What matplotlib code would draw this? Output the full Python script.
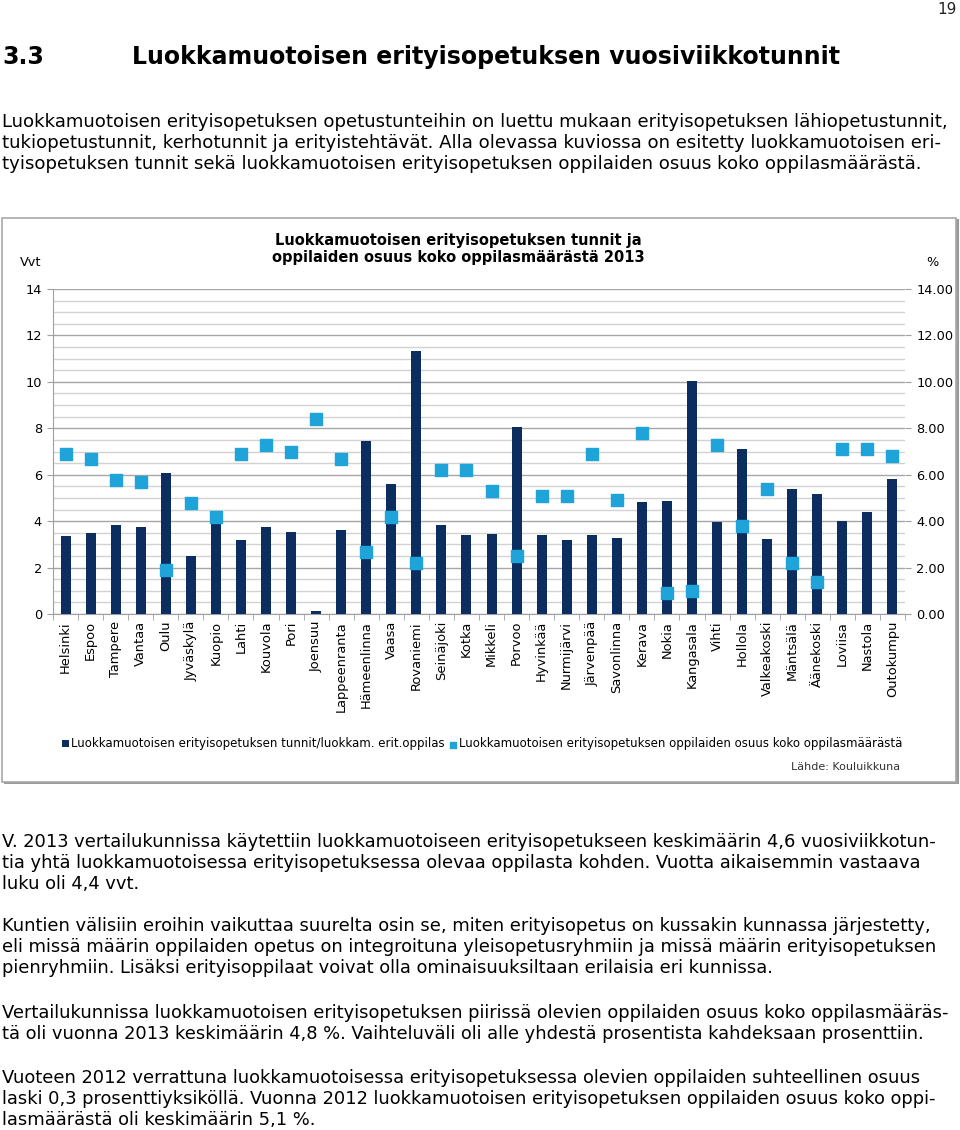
import matplotlib
matplotlib.use("Agg")
import matplotlib.pyplot as plt
from matplotlib.patches import Rectangle
import numpy as np

W, H = 960, 1130

# --- chart data ---
kunnat = ['Helsinki', 'Espoo', 'Tampere', 'Vantaa', 'Oulu', 'Jyväskylä', 'Kuopio',
          'Lahti', 'Kouvola', 'Pori', 'Joensuu', 'Lappeenranta', 'Hämeenlinna', 'Vaasa',
          'Rovaniemi', 'Seinäjoki', 'Kotka', 'Mikkeli', 'Porvoo', 'Hyvinkää', 'Nurmijärvi',
          'Järvenpää', 'Savonlinna', 'Kerava', 'Nokia', 'Kangasala', 'Vihti', 'Hollola',
          'Valkeakoski', 'Mäntsälä', 'Äänekoski', 'Loviisa', 'Nastola', 'Outokumpu']
tunnit = [3.35, 3.49, 3.82, 3.75, 6.06, 2.48, 4.0, 3.19, 3.76, 3.55, 0.14, 3.6,
          7.44, 5.61, 11.32, 3.85, 3.42, 3.45, 8.04, 3.40, 3.20, 3.40, 3.27, 4.82,
          4.88, 10.02, 3.96, 7.11, 3.22, 5.40, 5.17, 3.99, 4.38, 5.83]
osuus = [6.89, 6.69, 5.79, 5.69, 1.91, 4.80, 4.19, 6.89, 7.29, 7.00, 8.41, 6.69,
         2.69, 4.19, 2.21, 6.20, 6.20, 5.31, 2.50, 5.10, 5.10, 6.89, 4.90, 7.81,
         0.89, 1.00, 7.29, 3.80, 5.40, 2.21, 1.38, 7.09, 7.09, 6.81]
ticks_vvt = [0, 2, 4, 6, 8, 10, 12, 14]

chart_title = 'Luokkamuotoisen erityisopetuksen tunnit ja\noppilaiden osuus koko oppilasmäärästä 2013'
label_bar = 'Luokkamuotoisen erityisopetuksen tunnit/luokkam. erit.oppilas'
label_pt = 'Luokkamuotoisen erityisopetuksen oppilaiden osuus koko oppilasmäärästä'

# --- page text ---
heading_no = '3.3'
heading = 'Luokkamuotoisen erityisopetuksen vuosiviikkotunnit'
intro = ['Luokkamuotoisen erityisopetuksen opetustunteihin on luettu mukaan erityisopetuksen lähiopetustunnit,',
         'tukiopetustunnit, kerhotunnit ja erityistehtävät. Alla olevassa kuviossa on esitetty luokkamuotoisen eri-',
         'tyisopetuksen tunnit sekä luokkamuotoisen erityisopetuksen oppilaiden osuus koko oppilasmäärästä.']
paragraphs = [
    ['V. 2013 vertailukunnissa käytettiin luokkamuotoiseen erityisopetukseen keskimäärin 4,6 vuosiviikkotun-',
     'tia yhtä luokkamuotoisessa erityisopetuksessa olevaa oppilasta kohden. Vuotta aikaisemmin vastaava',
     'luku oli 4,4 vvt.'],
    ['Kuntien välisiin eroihin vaikuttaa suurelta osin se, miten erityisopetus on kussakin kunnassa järjestetty,',
     'eli missä määrin oppilaiden opetus on integroituna yleisopetusryhmiin ja missä määrin erityisopetuksen',
     'pienryhmiin. Lisäksi erityisoppilaat voivat olla ominaisuuksiltaan erilaisia eri kunnissa.'],
    ['Vertailukunnissa luokkamuotoisen erityisopetuksen piirissä olevien oppilaiden osuus koko oppilasmääräs-',
     'tä oli vuonna 2013 keskimäärin 4,8 %. Vaihteluväli oli alle yhdestä prosentista kahdeksaan prosenttiin.'],
    ['Vuoteen 2012 verrattuna luokkamuotoisessa erityisopetuksessa olevien oppilaiden suhteellinen osuus',
     'laski 0,3 prosenttiyksiköllä. Vuonna 2012 luokkamuotoisen erityisopetuksen oppilaiden osuus koko oppi-',
     'lasmäärästä oli keskimäärin 5,1 %.'],
]
para_top = [842, 926, 1013, 1078]

NAVY = '#0b2d5f'
CYAN = '#1ea4d8'
plt.rcParams['font.family'] = ['DejaVu Sans']

fig = plt.figure(figsize=(W / 100, H / 100), dpi=100)
renderer = fig.canvas.get_renderer()


def px(x, y):
    return x / W, 1 - y / H


def fit_size(text, width, weight='normal', family='DejaVu Sans'):
    # measure at 10pt and scale to the wanted pixel width
    t = fig.text(0, 0, text, fontsize=10, weight=weight, family=family)
    w = t.get_window_extent(renderer).width
    t.remove()
    return 10 * width / w


# page number + heading
fig.text(*px(957, 10), '19', ha='right', va='center', fontsize=11, color='#222222')
hsize = fit_size(heading, 706, weight='bold')
fig.text(*px(2, 57), heading_no, ha='left', va='center', fontsize=hsize, weight='bold')
fig.text(*px(132, 57), heading, ha='left', va='center', fontsize=hsize, weight='bold')

body = fit_size(intro[0], 948)
for i, line in enumerate(intro):
    fig.text(*px(2, 122 + 21 * i), line, ha='left', va='center', fontsize=body)

body2 = fit_size(paragraphs[2][0], 946)
for top, para in zip(para_top, paragraphs):
    for i, line in enumerate(para):
        fig.text(*px(2, top + 21 * i), line, ha='left', va='center', fontsize=body2)

# chart frame (behind the axes)
fig.patches.append(Rectangle(px(4, 784), 955 / W, 565 / H, transform=fig.transFigure,
                             facecolor='#9a9a9a', edgecolor='none', zorder=-2))
fig.patches.append(Rectangle(px(2, 782), 954 / W, 564 / H, transform=fig.transFigure,
                             facecolor='white', edgecolor='#a8a8a8', lw=1.2, zorder=-1))

ax = fig.add_axes([53 / W, 1 - 614 / H, 852 / W, 325 / H])
ax.set_zorder(2)
ax.patch.set_alpha(0)
x = np.arange(len(kunnat))
bars = ax.bar(x, tunnit, width=0.4, color=NAVY, zorder=3, label=label_bar)
ax.set_xlim(-0.5, len(kunnat) - 0.5)
ax.set_ylim(0, 14)
ax.set_yticks(ticks_vvt)
ax.set_yticks(np.arange(0, 14.01, 0.5), minor=True)
ax.grid(axis='y', which='major', color='#a6a6a6', lw=1, zorder=0)
ax.grid(axis='y', which='minor', color='#d2d2d2', lw=1, zorder=0)
ax.tick_params(axis='y', which='minor', length=0)
ax.tick_params(axis='y', which='major', length=4, color='#a0a0a0', labelsize=9.3, pad=4)
ax.set_xticks(x)
ax.set_xticklabels(kunnat, rotation=90, fontsize=9.4)
ax.tick_params(axis='x', length=0, pad=5)
ax.set_xticks(np.arange(-0.5, len(kunnat), 1), minor=True)
ax.tick_params(axis='x', which='minor', length=4, color='#a0a0a0')
for s in ['top', 'right']:
    ax.spines[s].set_visible(False)
ax.spines['left'].set_color('#a0a0a0')
ax.spines['bottom'].set_color('#a0a0a0')

ax2 = ax.twinx()
ax2.set_zorder(3)
ax2.patch.set_alpha(0)
pts = ax2.scatter(x, osuus, marker='s', s=70, color=CYAN, zorder=4, label=label_pt)
ax2.set_ylim(0, 14)
ax2.set_yticks(ticks_vvt)
ax2.set_yticklabels([f'{v:.2f}' for v in ticks_vvt])
ax2.tick_params(axis='y', length=4, color='#a0a0a0', labelsize=9.3, pad=4)
for s in ax2.spines.values():
    s.set_visible(False)

fig.text(*px(458, 249), chart_title, ha='center', va='center', fontsize=10.5,
         weight='bold', linespacing=1.2)
fig.text(*px(20, 262), 'Vvt', ha='left', va='center', fontsize=9.3)
fig.text(*px(932, 262), '%', ha='center', va='center', fontsize=9.3)

fig.legend(handles=[bars, pts], loc='center', bbox_to_anchor=px(482, 744), ncol=2,
           frameon=False, fontsize=8.5, handlelength=0.6, handleheight=0.6,
           handletextpad=0.2, columnspacing=0.4, markerscale=0.5)
fig.text(*px(900, 767), 'Lähde: Kouluikkuna', ha='right', va='center', fontsize=8,
         color='#333333')

fig.savefig('out.png', dpi=100)
